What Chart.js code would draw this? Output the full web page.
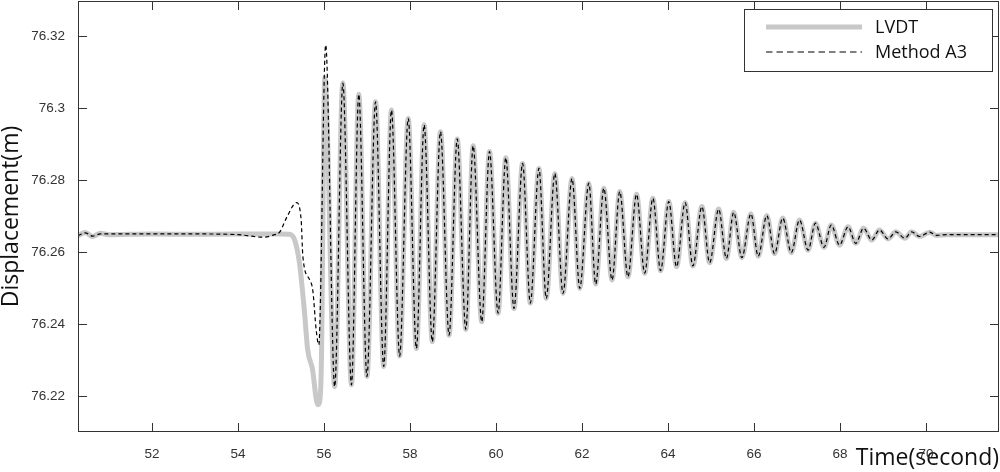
<!DOCTYPE html>
<html>
<head>
<meta charset="utf-8">
<title>Displacement</title>
<style>
    html, body { margin: 0; padding: 0; background: #fff; }
    #wrap { width: 1000px; height: 472px; }
</style>
</head>
<body>
<div id="wrap"><canvas id="chart" width="1000" height="472"></canvas></div>
<script src="https://cdn.jsdelivr.net/npm/chart.js@4/dist/chart.umd.min.js"></script>
<script>
(function () {
    "use strict";

    const X_TICKS = [52, 54, 56, 58, 60, 62, 64, 66, 68, 70];
    const Y_TICKS = [76.22, 76.24, 76.26, 76.28, 76.3, 76.32];

    // before the release, up to the first big peak
    const lvdtLeadT = [50.28, 50.45, 50.62, 50.80, 51.0, 52.0, 53.0, 54.0, 55.0, 55.20, 55.32, 55.43, 55.55, 55.62, 55.74, 55.81, 55.86, 55.90, 55.94, 56.02];
    const lvdtLeadY = [76.2645, 76.2654, 76.2643, 76.2652, 76.2648, 76.2650, 76.2649, 76.2650, 76.2650, 76.2649, 76.2633, 76.2570, 76.2430, 76.2330, 76.2270, 76.2200, 76.2176, 76.2184, 76.2291, 76.3083];
    const methodLeadT = [50.28, 50.45, 50.62, 50.80, 52.0, 53.0, 54.0, 54.58, 54.85, 54.97, 55.15, 55.36, 55.47, 55.51, 55.67, 55.74, 55.82, 55.88, 56.04];
    const methodLeadY = [76.2645, 76.2653, 76.2644, 76.2650, 76.2650, 76.2650, 76.2648, 76.2641, 76.2648, 76.2655, 76.2700, 76.2737, 76.2689, 76.2587, 76.2522, 76.2494, 76.2383, 76.2342, 76.3175];

    // free vibration: troughs and peaks, same for both records
    const swingT = [56.25, 56.44, 56.64, 56.81, 57.00, 57.20, 57.39, 57.57, 57.76, 57.96, 58.15, 58.33, 58.52, 58.71, 58.91, 59.10, 59.30, 59.47, 59.67, 59.85,
        60.05, 60.23, 60.42, 60.62, 60.80, 61.00, 61.17, 61.37, 61.56, 61.77, 61.95, 62.16, 62.32, 62.51, 62.70, 62.88, 63.07, 63.27, 63.46, 63.65,
        63.83, 64.02, 64.20, 64.40, 64.58, 64.79, 64.97, 65.18, 65.36, 65.53, 65.72, 65.93, 66.10, 66.30, 66.48, 66.67, 66.87, 67.06, 67.26, 67.43,
        67.63, 67.80, 67.99, 68.19, 68.37, 68.55, 68.74, 68.92, 69.12, 69.30, 69.51, 69.67, 69.85, 70.09, 70.24, 70.50, 71.70];
    const swingY = [76.2226, 76.3069, 76.2231, 76.3038, 76.2254, 76.3017, 76.2282, 76.2994, 76.2311, 76.2971, 76.2332, 76.2953, 76.2351, 76.2934, 76.2369, 76.2914, 76.2385, 76.2895, 76.2406, 76.2879,
        76.2430, 76.2862, 76.2443, 76.2846, 76.2458, 76.2832, 76.2471, 76.2818, 76.2485, 76.2804, 76.2499, 76.2791, 76.2511, 76.2777, 76.2522, 76.2768, 76.2531, 76.2760, 76.2541, 76.2749,
        76.2548, 76.2740, 76.2559, 76.2737, 76.2561, 76.2726, 76.2570, 76.2719, 76.2582, 76.2710, 76.2584, 76.2706, 76.2588, 76.2701, 76.2595, 76.2694, 76.2598, 76.2689, 76.2605, 76.2680,
        76.2613, 76.2675, 76.2619, 76.2670, 76.2624, 76.2666, 76.2633, 76.2661, 76.2636, 76.2656, 76.2638, 76.2656, 76.2643, 76.2655, 76.2646, 76.2648, 76.2648];

    const toPoints = (ts, ys) => ts.map((t, i) => ({ x: t, y: ys[i] }));
    const lvdt = toPoints(lvdtLeadT.concat(swingT), lvdtLeadY.concat(swingY));
    const method = toPoints(methodLeadT.concat(swingT), methodLeadY.concat(swingY));

    const INK = "#333";
    const tickFont = { family: "'Liberation Sans', Arial, sans-serif", size: 13.5 };
    const titleFont = { family: "'Open Sans', sans-serif", size: 23, lineHeight: 1 };

    // matlab style box: frame, inward ticks on all four sides, legend in the corner
    const boxPlugin = {
        id: "box",
        afterDraw(chart) {
            const { ctx, chartArea: a, scales: { x, y } } = chart;
            ctx.save();
            ctx.strokeStyle = INK;
            ctx.lineWidth = 1;
            ctx.strokeRect(a.left + 0.5, a.top + 0.5, a.right - a.left - 1, a.bottom - a.top - 1);
            ctx.beginPath();
            X_TICKS.forEach((v) => {
                const px = Math.round(x.getPixelForValue(v)) + 0.5;
                ctx.moveTo(px, a.bottom); ctx.lineTo(px, a.bottom - 9);
                ctx.moveTo(px, a.top); ctx.lineTo(px, a.top + 9);
            });
            Y_TICKS.forEach((v) => {
                const py = Math.round(y.getPixelForValue(v)) + 0.5;
                ctx.moveTo(a.left, py); ctx.lineTo(a.left + 9, py);
                ctx.moveTo(a.right, py); ctx.lineTo(a.right - 9, py);
            });
            ctx.stroke();

            // legend
            const lx = 744, ly = 9, lw = 248, lh = 62;
            ctx.fillStyle = "#fff";
            ctx.fillRect(lx, ly, lw, lh);
            ctx.strokeRect(lx + 0.5, ly + 0.5, lw, lh);
            ctx.font = "18px 'Open Sans', sans-serif";
            ctx.textBaseline = "middle";
            chart.data.datasets.forEach((ds, i) => {
                const rowY = ly + 18 + i * 25;
                ctx.beginPath();
                ctx.strokeStyle = ds.borderColor;
                ctx.lineWidth = ds.borderWidth;
                ctx.setLineDash(ds.borderDash ? [6.5, 4] : []);
                ctx.moveTo(766, rowY); ctx.lineTo(862, rowY);
                ctx.stroke();
                ctx.setLineDash([]);
                ctx.fillStyle = "#111";
                ctx.fillText(ds.label, 875, rowY + 1);
            });
            ctx.restore();
        },
    };

    new Chart(document.getElementById("chart"), {
        type: "line",
        data: {
            datasets: [
                { label: "LVDT", data: lvdt, borderColor: "#c8c8c8", borderWidth: 5, order: 1 },
                { label: "Method A3", data: method, borderColor: "#000", borderWidth: 1.2, borderDash: [4, 3], order: 0 },
            ],
        },
        options: {
            responsive: false,
            animation: false,
            layout: { padding: { top: 1, right: 1, left: 0, bottom: 0 } },
            elements: { point: { radius: 0 }, line: { cubicInterpolationMode: "monotone", borderCapStyle: "butt" } },
            plugins: { legend: { display: false }, tooltip: { enabled: false } },
            scales: {
                x: {
                    type: "linear", min: 50.28, max: 71.70,
                    afterFit: (s) => { s.height = 40; s.paddingLeft = 0; s.paddingRight = 0; },
                    afterBuildTicks: (s) => { s.ticks = X_TICKS.map((v) => ({ value: v })); },
                    ticks: { color: INK, font: tickFont, padding: 6, maxRotation: 0, callback: (v) => String(v) },
                    grid: { display: false },
                    border: { display: false },
                    title: { display: true, text: "Time(second)", align: "end", color: "#111", font: titleFont, padding: { top: 0, bottom: 2 } },
                },
                y: {
                    type: "linear", min: 76.21, max: 76.3297,
                    afterFit: (s) => { s.width = 78; s.paddingTop = 0; s.paddingBottom = 0; },
                    afterBuildTicks: (s) => { s.ticks = Y_TICKS.map((v) => ({ value: v })); },
                    ticks: { color: INK, font: tickFont, padding: 5, callback: (v) => String(v) },
                    grid: { display: false },
                    border: { display: false },
                    title: { display: true, text: "Displacement(m)", color: "#111", font: titleFont, padding: { top: 0, bottom: 0 } },
                },
            },
        },
        plugins: [boxPlugin],
    });
})();
</script>
</body>
</html>
